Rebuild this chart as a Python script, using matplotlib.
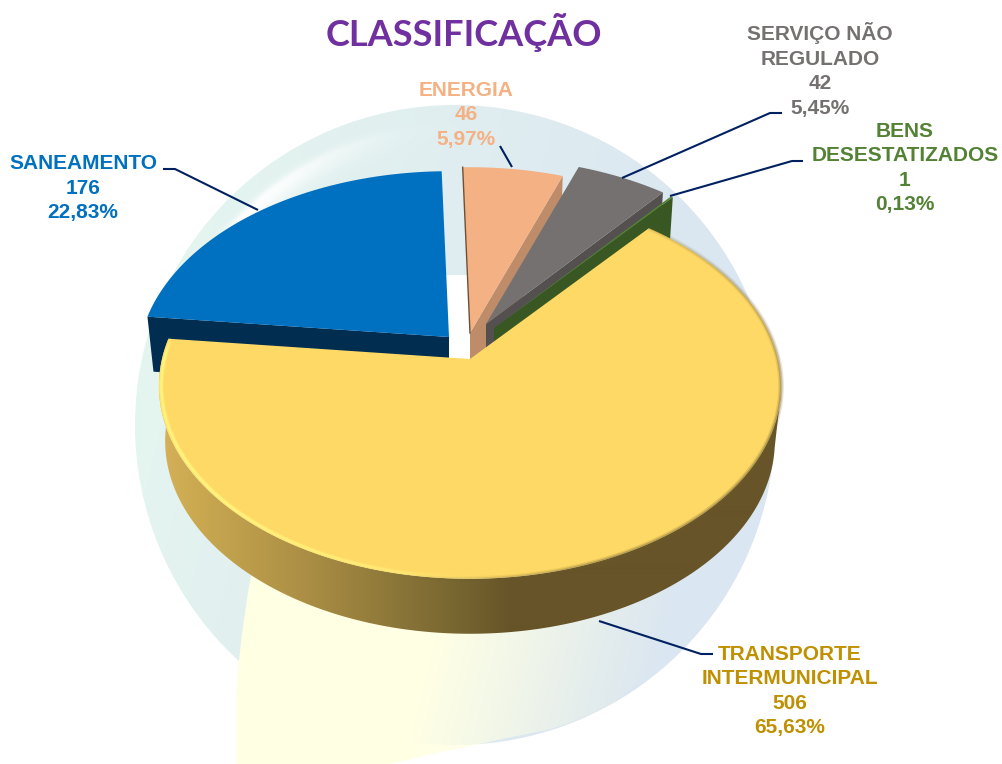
"""Exploded 3D pie of the CLASSIFICAÇÃO counts, drawn by hand on a pixel-sized axes."""

import matplotlib

matplotlib.use("Agg")
import matplotlib.pyplot as plt
import numpy as np
from matplotlib.collections import LineCollection
from matplotlib.patches import Circle, PathPatch, Polygon
from matplotlib.path import Path

# Data, in drawing order of the pie (clockwise from the yellow slice)
CATEGORIES = ["TRANSPORTE\nINTERMUNICIPAL", "SANEAMENTO", "ENERGIA", "SERVIÇO NÃO\nREGULADO", "BENS\nDESESTATIZADOS"]
VALUES = [506, 176, 46, 42, 1]

# Styles, same order
TOP_COLORS = ["#FFD966", "#0070C0", "#F4B183", "#767171", "#548235"]
WALL_COLORS = ["#67562A", "#002D50", "#BE8C69", "#555050", "#385723"]
TEXT_COLORS = ["#BF9000", "#0070C0", "#F4B183", "#767171", "#548235"]
APEXES = [(470, 359), (449, 337), (470, 333), (486, 324), (494, 328)]
LABEL_XY = [(790, 691), (83, 188), (466, 115), (820, 70), (905, 168)]
LEADERS = [
    [(713, 654), (701, 654), (599, 621)],
    [(163, 169), (175, 169), (258, 210)],
    [(500, 146), (512, 167)],
    [(782, 113), (770, 113), (622, 178)],
    [(803, 161), (792, 161), (670, 196)],
]

WIDTH, HEIGHT = 1003, 764
START_ANGLE = 50.0  # yellow slice starts here and runs clockwise
RX, RY, PERSPECTIVE = 308.0, 189.0, 0.14
DEPTH = 55.0
NAVY = "#002060"


def ring_xy(angles, apex, radius=1.0, depth=0.0):
    """Project disc angles (degrees) to pixels, far side squeezed by the perspective."""
    t = np.radians(np.asarray(angles, dtype=float))
    s = radius / (1 + PERSPECTIVE * np.sin(t))
    x = apex[0] + RX * np.cos(t) * s * (1 - 0.02 * depth / DEPTH)
    y = apex[1] - RY * np.sin(t) * s + depth
    return x, y


def slice_angles():
    """Start and end angle of each slice, from the values."""
    sweeps = np.array(VALUES) / sum(VALUES) * 360
    ends = START_ANGLE - np.cumsum(sweeps)
    starts = np.r_[START_ANGLE, ends[:-1]]
    return starts, ends


def top_polygon(a0, a1, apex):
    angles = np.linspace(a0, a1, 200)
    x, y = ring_xy(angles, apex)
    return np.r_[[[apex[0], apex[1]]], np.c_[x, y]]


def radial_wall(angle, apex):
    x0, y0 = ring_xy(angle, apex)
    x1, y1 = ring_xy(angle, apex, depth=DEPTH)
    return [apex, (x0, y0), (x1, y1), (apex[0], apex[1] + DEPTH)]


def gradient_image(ax, rgba, clip, zorder):
    im = ax.imshow(rgba, extent=(0, WIDTH, HEIGHT, 0), aspect="auto", interpolation="bilinear", zorder=zorder)
    ax.add_patch(clip)
    clip.set(fill=False, linewidth=0, zorder=zorder)
    im.set_clip_path(clip)


def draw_background(ax):
    """Pale disc behind the pie, with its highlight band and the yellow lobe."""
    X, Y = np.meshgrid(np.arange(WIDTH) + 0.5, np.arange(HEIGHT) + 0.5)
    u = np.clip((X - 137) / 630 + (Y - 105) / 2500, 0, 1)
    rgba = np.ones((HEIGHT, WIDTH, 4))
    rgba[..., 0] = np.interp(u, [0, 0.5, 1], [230, 224, 218]) / 255
    rgba[..., 1] = np.interp(u, [0, 0.5, 1], [247, 238, 230]) / 255
    rgba[..., 2] = np.interp(u, [0, 0.5, 1], [239, 240, 241]) / 255

    # white band just inside the rim, strongest at upper left
    dist = np.hypot(X - 455, Y - 425)
    ang = np.degrees(np.arctan2(425 - Y, X - 455))
    band = np.exp(-(((dist - 297) / np.where(dist < 297, 14, 5)) ** 2)) * np.exp(-(((ang - 133) / 22) ** 2))
    rgba[..., :3] += (1 - rgba[..., :3]) * band[..., None] * 0.95
    gradient_image(ax, rgba, Circle((455, 425), 320, transform=ax.transData), 1)

    # yellow lobe fading into the disc towards the right
    lobe = Path(
        [(262, 520), (240, 620), (236, 700), (236, 764), (238, 790), (390, 764), (470, 745), (547, 730), (575, 722),
         (610, 706), (680, 650), (700, 520), (262, 520)],
        [Path.MOVETO, Path.CURVE3, Path.LINETO, Path.LINETO, Path.LINETO, Path.LINETO, Path.CURVE3, Path.CURVE3,
         Path.CURVE3, Path.CURVE3, Path.LINETO, Path.LINETO, Path.CLOSEPOLY],
    )
    rgba2 = np.ones((HEIGHT, WIDTH, 4))
    rgba2[..., 2] = 228 / 255
    rgba2[..., 3] = np.clip((650 - (X + 0.25 * (Y - 700))) / 230, 0, 1)
    gradient_image(ax, rgba2, PathPatch(lobe, transform=ax.transData), 2)

    # the disc is white below this line in the gap between blue and peach
    ax.add_patch(Polygon([(440, 275), (480, 275), (480, 365), (440, 365)], color="white", lw=0, zorder=3))


def draw_wall_gradient(ax, a0, a1, apex, zorder):
    """Outer wall of the yellow slice with a left-to-right shading."""
    angles = np.linspace(a0, a1, 300)
    tx, ty = ring_xy(angles, apex)
    bx, by = ring_xy(angles, apex, depth=DEPTH)
    poly = np.r_[np.c_[tx, ty], np.c_[bx, by][::-1]]
    xs = np.arange(WIDTH) + 0.5
    stops = [160, 200, 300, 400, 465, 510, 1003]
    rgba = np.ones((1, WIDTH, 4))
    rgba[..., 0] = np.interp(xs, stops, [214, 201, 173, 138, 117, 103, 103]) / 255
    rgba[..., 1] = np.interp(xs, stops, [178, 168, 144, 117, 100, 84, 86]) / 255
    rgba[..., 2] = np.interp(xs, stops, [90, 80, 69, 56, 48, 40, 42]) / 255
    gradient_image(ax, rgba, Polygon(poly, closed=True, transform=ax.transData), zorder)


def draw_rim(ax, a0, a1, apex, zorder):
    """Bevel on the yellow top: bright at front left, soft brown at the right."""
    angles = np.linspace(a0, a1, 400)
    x, y = ring_xy(angles, apex, radius=0.992)
    pts = np.c_[x, y].reshape(-1, 1, 2)
    segs = np.concatenate([pts[:-1], pts[1:]], axis=1)
    mid = angles[:-1]
    glow = np.interp(mid, [-186, -182, -135, -105, -85, 60], [0.3, 0.95, 0.95, 0.5, 0, 0])
    for width, alpha in [(3.4, 0.35), (1.8, 0.8)]:
        colors = np.zeros((len(mid), 4))
        colors[:, :3] = np.array([255, 250, 130]) / 255
        colors[:, 3] = glow * alpha
        ax.add_collection(LineCollection(segs, colors=colors, linewidths=width, zorder=zorder, capstyle="butt"))

    x, y = ring_xy(angles, apex, radius=1.0)
    pts = np.c_[x, y].reshape(-1, 1, 2)
    segs = np.concatenate([pts[:-1], pts[1:]], axis=1)
    shade = np.interp(mid, [-100, -70, -20, 10, 50], [0, 0.55, 0.6, 0.45, 0.2])
    for width, alpha in [(4.0, 0.3), (2.0, 0.6)]:
        colors = np.zeros((len(mid), 4))
        colors[:, :3] = np.array([110, 92, 45]) / 255
        colors[:, 3] = shade * alpha
        ax.add_collection(LineCollection(segs, colors=colors, linewidths=width, zorder=zorder, capstyle="butt"))


def draw_pie(ax):
    starts, ends = slice_angles()

    # blue
    i = 1
    ax.add_patch(Polygon(radial_wall(starts[i], APEXES[i]), color=WALL_COLORS[i], lw=0, joinstyle="round", zorder=4))
    ax.add_patch(Polygon(top_polygon(starts[i], ends[i], APEXES[i]), color=TOP_COLORS[i], lw=0, zorder=5))

    # peach, gray, green back to front
    for i, z in [(2, 6), (3, 8), (4, 10)]:
        ax.add_patch(Polygon(radial_wall(ends[i], APEXES[i]), color=WALL_COLORS[i], lw=0, zorder=z))
        ax.add_patch(Polygon(top_polygon(starts[i], ends[i], APEXES[i]), color=TOP_COLORS[i], lw=0, zorder=z + 1))
    x0, y0 = ring_xy(starts[2], APEXES[2])
    ax.plot([x0, APEXES[2][0]], [y0, APEXES[2][1]], color="#6E5038", lw=1.0, zorder=8)

    # yellow
    i = 0
    draw_wall_gradient(ax, -10, ends[i], APEXES[i], 12)
    ax.add_patch(Polygon(top_polygon(starts[i], ends[i], APEXES[i]), color=TOP_COLORS[i], lw=0, zorder=13))
    draw_rim(ax, ends[i], starts[i], APEXES[i], 14)


def main():
    plt.rcParams["font.family"] = ["Liberation Sans", "DejaVu Sans"]
    fig = plt.figure(figsize=(WIDTH / 100, HEIGHT / 100), dpi=100, facecolor="white")
    ax = fig.add_axes([0, 0, 1, 1])
    draw_background(ax)
    draw_pie(ax)
    ax.set_xlim(0, WIDTH)
    ax.set_ylim(HEIGHT, 0)
    ax.axis("off")

    for path in LEADERS:
        xs, ys = zip(*path)
        ax.plot(xs, ys, color=NAVY, lw=1.5, zorder=20, solid_capstyle="butt")

    total = sum(VALUES)
    for name, value, (x, y), color in zip(CATEGORIES, VALUES, LABEL_XY, TEXT_COLORS):
        pct = f"{value / total * 100:.2f}".replace(".", ",")
        ax.text(x, y, f"{name}\n{value}\n{pct}%", ha="center", va="center", fontsize=15, fontweight="bold",
                color=color, linespacing=1.36, zorder=21)

    ax.text(464, 33, "CLASSIFICAÇÃO", ha="center", va="center", fontsize=26, fontweight="bold",
            family=["Lato", "DejaVu Sans"], color="#7030A0", zorder=21)

    fig.savefig("out.png", dpi=100, facecolor="white")
    plt.close(fig)


if __name__ == "__main__":
    main()
